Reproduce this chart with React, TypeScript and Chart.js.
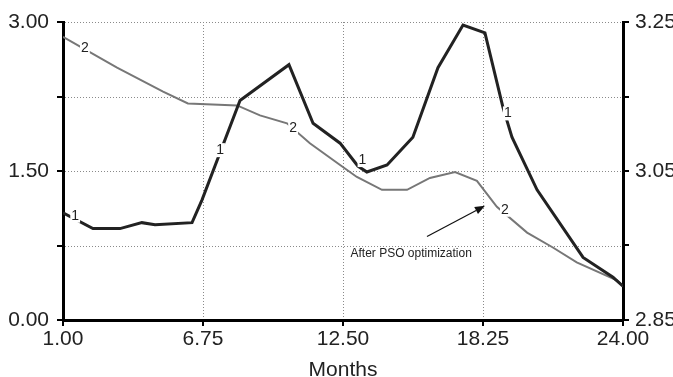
import React, { useEffect, useRef } from "react";
import { Chart, registerables } from "chart.js";
Chart.register(...registerables);

const xTicks = [1, 6.75, 12.5, 18.25, 24];
const leftTicks = [0, 0.75, 1.5, 2.25, 3];
const leftLabeled = [0, 1.5, 3];
const rightTicks = [2.85, 2.95, 3.05, 3.15, 3.25];
const rightLabeled = [2.85, 3.05, 3.25];

// Series 1 (black, thick)
const months1 = [1.0, 2.23, 3.34, 4.24, 4.78, 6.3, 6.71, 8.27, 10.28, 11.27, 12.38, 13.11, 13.48, 14.31, 15.37, 16.4, 17.43, 18.33, 19.07, 19.44, 20.47, 22.36, 23.59, 24.0];
const values1 = [1.08, 0.92, 0.92, 0.98, 0.96, 0.98, 1.21, 2.21, 2.57, 1.98, 1.78, 1.55, 1.49, 1.56, 1.84, 2.54, 2.97, 2.89, 2.14, 1.84, 1.31, 0.63, 0.43, 0.34];

// Series 2 (gray, after PSO optimization)
const months2 = [1.0, 3.22, 5.11, 6.13, 8.15, 9.09, 10.2, 11.14, 12.38, 13.07, 14.1, 15.13, 16.07, 17.1, 18.0, 18.82, 20.06, 21.12, 22.1, 23.75, 24.0];
const values2 = [2.85, 2.54, 2.3, 2.18, 2.16, 2.06, 1.98, 1.78, 1.56, 1.44, 1.31, 1.31, 1.43, 1.49, 1.4, 1.14, 0.88, 0.73, 0.58, 0.4, 0.34];

// Curve label markers: [month, value]
const labelMonths1 = [1.5, 7.45, 13.3, 19.27];
const labelValues1 = [1.05, 1.71, 1.61, 2.08];
const labelMonths2 = [1.9, 10.45, 19.15];
const labelValues2 = [2.74, 1.93, 1.11];

const annotationText = "After PSO optimization";

export default function App() {
  const ref = useRef<HTMLCanvasElement | null>(null);
  useEffect(() => {
    if (!ref.current) return;
    const font = "'Liberation Sans', Arial, Helvetica, sans-serif";

    const gridPlugin = {
      id: "dottedGrid",
      beforeDatasetsDraw(chart: any) {
        const { ctx, chartArea, scales } = chart;
        ctx.save();
        ctx.strokeStyle = "#8a8a8a";
        ctx.lineWidth = 1;
        ctx.setLineDash([1, 2]);
        [0.75, 1.5, 2.25, 3].forEach((v) => {
          const y = Math.round(scales.y.getPixelForValue(v)) + 0.5;
          ctx.beginPath();
          ctx.moveTo(chartArea.left + 2, y);
          ctx.lineTo(chartArea.right - 2, y);
          ctx.stroke();
        });
        [6.75, 12.5, 18.25].forEach((v) => {
          const x = Math.round(scales.x.getPixelForValue(v)) + 0.5;
          ctx.beginPath();
          ctx.moveTo(x, chartArea.top);
          ctx.lineTo(x, chartArea.bottom - 2);
          ctx.stroke();
        });
        ctx.restore();
      },
    };

    const labelPlugin = {
      id: "curveLabels",
      afterDatasetsDraw(chart: any) {
        const { ctx, scales } = chart;
        ctx.save();
        ctx.font = "14px " + font;
        ctx.textAlign = "center";
        ctx.textBaseline = "middle";
        const draw = (mx: number[], my: number[], txt: string) => {
          mx.forEach((m, i) => {
            const x = scales.x.getPixelForValue(m);
            const y = scales.y.getPixelForValue(my[i]);
            const w = ctx.measureText(txt).width;
            ctx.fillStyle = "#fff";
            ctx.fillRect(x - w / 2 - 1, y - 7, w + 2, 14);
            ctx.fillStyle = "#222";
            ctx.fillText(txt, x, y);
          });
        };
        draw(labelMonths1, labelValues1, "1");
        draw(labelMonths2, labelValues2, "2");

        // annotation arrow
        const tx = scales.x.getPixelForValue(15.95);
        const ty = scales.y.getPixelForValue(0.84);
        const hx = scales.x.getPixelForValue(18.33);
        const hy = scales.y.getPixelForValue(1.15);
        const ang = Math.atan2(hy - ty, hx - tx);
        const L = 10;
        const bx = hx - L * Math.cos(ang);
        const by = hy - L * Math.sin(ang);
        ctx.strokeStyle = "#111";
        ctx.lineWidth = 1.2;
        ctx.beginPath();
        ctx.moveTo(tx, ty);
        ctx.lineTo(bx, by);
        ctx.stroke();
        ctx.fillStyle = "#111";
        ctx.beginPath();
        ctx.moveTo(hx, hy);
        ctx.lineTo(bx + 4 * Math.sin(ang), by - 4 * Math.cos(ang));
        ctx.lineTo(bx - 4 * Math.sin(ang), by + 4 * Math.cos(ang));
        ctx.closePath();
        ctx.fill();

        ctx.font = "12px " + font;
        ctx.fillStyle = "#222";
        ctx.fillText(annotationText, scales.x.getPixelForValue(15.3), scales.y.getPixelForValue(0.665));
        ctx.restore();
      },
    };

    const tickFont = { family: font, size: 21 };
    const chart = new Chart(ref.current, {
      type: "line",
      data: {
        datasets: [
          {
            label: "1",
            data: months1.map((m, i) => ({ x: m, y: values1[i] })),
            borderColor: "#222",
            borderWidth: 3,
            pointRadius: 0,
            tension: 0,
            yAxisID: "y",
          },
          {
            label: "2",
            data: months2.map((m, i) => ({ x: m, y: values2[i] })),
            borderColor: "#777",
            borderWidth: 2,
            pointRadius: 0,
            tension: 0,
            yAxisID: "y",
          },
        ],
      },
      options: {
        responsive: false,
        animation: false,
        layout: { padding: { top: 22, left: 0, right: 0, bottom: 0 } },
        plugins: { legend: { display: false }, tooltip: { enabled: false } },
        scales: {
          x: {
            type: "linear",
            min: 1,
            max: 24,
            afterBuildTicks: (s: any) => {
              s.ticks = xTicks.map((v) => ({ value: v }));
            },
            afterFit: (s: any) => {
              s.height = 57;
            },
            ticks: {
              color: "#222",
              font: tickFont,
              padding: 1,
              maxRotation: 0,
              autoSkip: false,
              callback: (v: any) => Number(v).toFixed(2),
            },
            grid: { drawOnChartArea: false, color: "#000", lineWidth: 2, tickLength: 6 },
            border: { color: "#000", width: 3 },
            title: {
              display: true,
              text: "Months",
              color: "#222",
              font: { family: font, size: 21 },
              padding: { top: 0, bottom: -6 },
            },
          },
          y: {
            type: "linear",
            position: "left",
            min: 0,
            max: 3,
            afterBuildTicks: (s: any) => {
              s.ticks = leftTicks.map((v) => ({ value: v }));
            },
            afterFit: (s: any) => {
              s.width = 63;
            },
            ticks: {
              color: "#222",
              font: tickFont,
              padding: 8,
              autoSkip: false,
              callback: (v: any) => (leftLabeled.includes(Number(v)) ? Number(v).toFixed(2) : ""),
            },
            grid: { drawOnChartArea: false, color: "#000", lineWidth: 2, tickLength: 6 },
            border: { color: "#000", width: 3 },
          },
          y2: {
            type: "linear",
            position: "right",
            min: 2.85,
            max: 3.25,
            afterBuildTicks: (s: any) => {
              s.ticks = rightTicks.map((v) => ({ value: v }));
            },
            afterFit: (s: any) => {
              s.width = 50;
            },
            ticks: {
              color: "#222",
              font: tickFont,
              padding: 6,
              autoSkip: false,
              callback: (v: any) =>
                rightLabeled.some((r) => Math.abs(r - Number(v)) < 1e-6) ? Number(v).toFixed(2) : "",
            },
            grid: { drawOnChartArea: false, color: "#000", lineWidth: 2, tickLength: 6 },
            border: { color: "#000", width: 3 },
          },
        },
      },
      plugins: [gridPlugin, labelPlugin],
    } as any);
    return () => chart.destroy();
  }, []);

  return (
    <div style={{ position: "fixed", left: 0, top: 0, width: 673, height: 377, background: "#fff" }}>
      <canvas ref={ref} width={673} height={377} style={{ width: 673, height: 377, display: "block" }} />
    </div>
  );
}
